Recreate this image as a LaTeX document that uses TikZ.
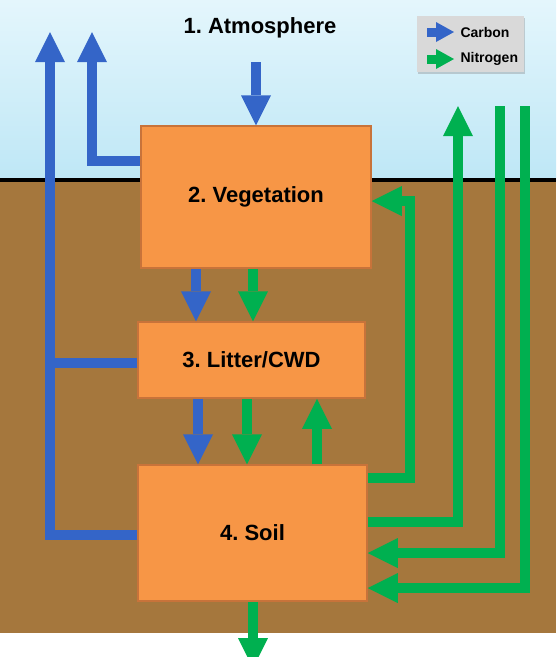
\documentclass[tikz,border=0pt]{standalone}
\usepackage{fontspec}
\setmainfont{Liberation Sans}
\usetikzlibrary{arrows.meta,positioning,shadows}
\frenchspacing
\definecolor{skytop}{HTML}{E4F6FC}
\definecolor{skylow}{HTML}{BEE7F6}
\definecolor{earth}{HTML}{A5773D}
\definecolor{poolfill}{HTML}{F79646}
\definecolor{poolline}{HTML}{C8733A}
\definecolor{cblue}{HTML}{3465C8}
\definecolor{ngreen}{HTML}{00B050}
\definecolor{keygrey}{HTML}{D9D9D9}
\tikzset{
  pool/.style={draw=poolline,line width=1.5pt,fill=poolfill,inner sep=0pt,
    font=\fontsize{22}{26}\selectfont\bfseries},
  flux/.style={line width=10pt,line join=miter,
    -{Triangle[width=30pt,length=30pt,line width=0pt]}},
  carbon/.style={flux,draw=cblue},
  nitro/.style={flux,draw=ngreen},
  keyflux/.style={line width=9pt,-{Triangle[width=20pt,length=18pt,line width=0pt]}},
  keytext/.style={right=1pt,black,inner sep=1pt,font=\fontsize{14}{17}\selectfont\bfseries},
}
\begin{document}
\begin{tikzpicture}[x=1pt,y=-1pt]
\useasboundingbox (0,0) rectangle (560,657);
%% sky, ground
\shade[top color=skytop,bottom color=skylow] (0,0) rectangle (556,180);
\fill[earth] (0,180) rectangle (556,633);
\draw[line width=4pt] (0,180) -- (556,180);
%% pools
\node[font=\fontsize{22}{26}\selectfont\bfseries] (atm) at (260,28) {1. Atmosphere};
\node[pool,minimum width=230pt,minimum height=142pt] (veg) at (256,197) {2. Vegetation};
\node[pool,minimum width=227pt,minimum height=76pt] (lit) at (251.5,360) {3. Litter/CWD};
\node[pool,minimum width=229pt,minimum height=136pt] (soil) at (252.5,533) {4. Soil};
%% free ends
\coordinate (cup1) at (50,32);
\coordinate (cup2) at (92,32);
\coordinate (catm) at (256,62);
\coordinate (nup) at (458,106);
\coordinate (nin1) at (500,106);
\coordinate (nin2) at (525,106);
\coordinate (nbend) at (410,201);
\coordinate (nleach) at (253,668);
%% carbon
\draw[carbon] (catm) -- (veg.north);
\draw[carbon] (veg.west |- 0,161) -| (cup2);
\draw[carbon] (soil.west |- 0,535) -| (cup1);
\draw[cblue,line width=10pt] (lit.west |- 0,363) -- (cup1 |- 0,363);
\draw[carbon] (veg.south -| 196,0) -- (lit.north -| 196,0);
\draw[carbon] (lit.south -| 198,0) -- (soil.north -| 198,0);
%% nitrogen
\draw[nitro] (veg.south -| 253,0) -- (lit.north -| 253,0);
\draw[nitro] (lit.south -| 247,0) -- (soil.north -| 247,0);
\draw[nitro] (soil.north -| 317,0) -- (lit.south -| 317,0);
\draw[nitro] (soil.east |- 0,478) -| (nbend) -- (veg.east |- nbend);
\draw[nitro] (soil.east |- 0,522) -| (nup);
\draw[nitro] (nin1) |- (soil.east |- 0,553);
\draw[nitro] (nin2) |- (soil.east |- 0,588);
\draw[nitro] (soil.south -| nleach) -- (nleach);
%% key
\node[fill=keygrey,drop shadow={opacity=0.35,shadow xshift=1pt,shadow yshift=-2pt},
  minimum width=107pt,minimum height=56pt] (key) at (470.5,44) {};
\coordinate (kc) at (427,32);
\coordinate (kn) at (427,59);
\draw[keyflux,cblue] (kc) -- ++(27,0) node[keytext] (kclab) {Carbon};
\draw[keyflux,ngreen] (kn) -- ++(27,0) node[keytext] (knlab) {Nitrogen};
\end{tikzpicture}
\end{document}
